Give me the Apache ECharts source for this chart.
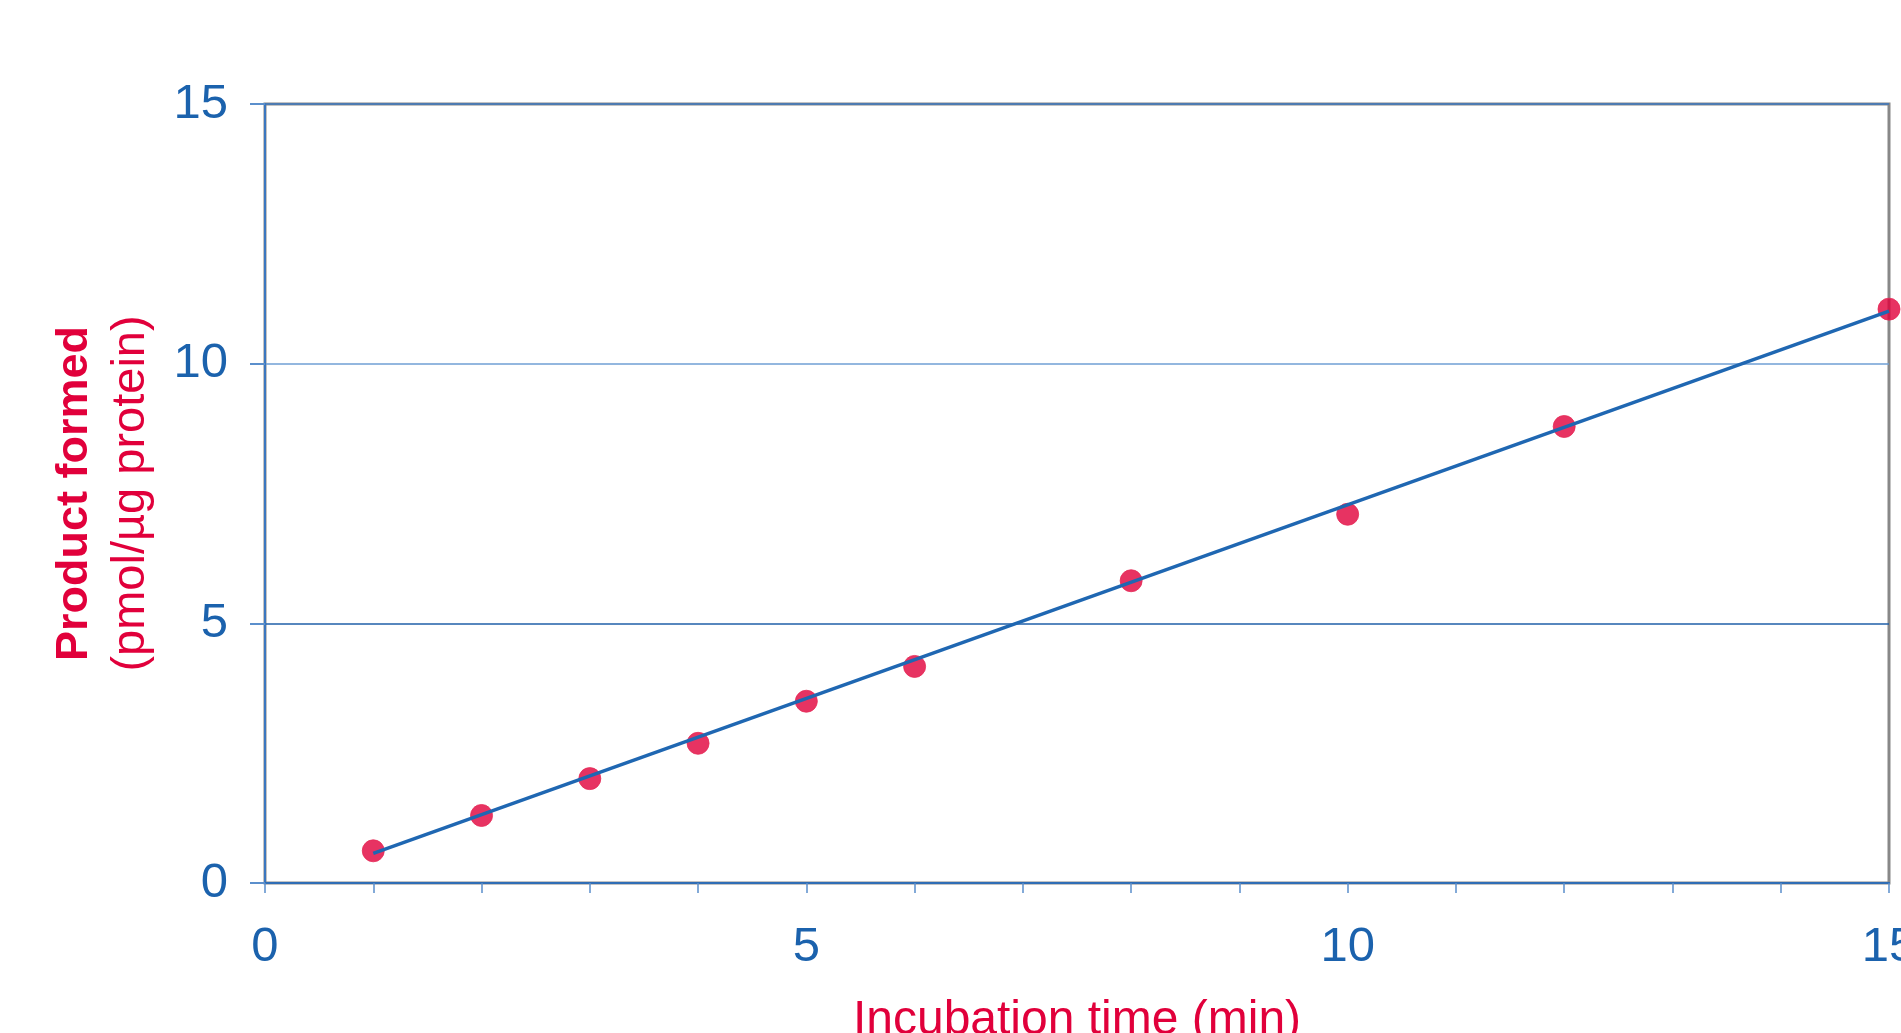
<!DOCTYPE html>
<html>
<head>
<meta charset="utf-8">
<script src="https://cdn.jsdelivr.net/npm/echarts@6/dist/echarts.min.js"></script>
<style>
html,body{margin:0;padding:0;background:#fff;overflow:hidden;}
#chart{width:1901px;height:1033px;}
</style>
</head>
<body>
<div id="chart"></div>
<script>
// Data
var timeMin = [1, 2, 3, 4, 5, 6, 8, 10, 12, 15];
var product = [0.62, 1.30, 2.01, 2.69, 3.50, 4.17, 5.82, 7.10, 8.79, 11.05];
var fitX = [1, 15];
var fitY = [0.57, 11.01];
var xTicks = [0, 5, 10, 15];
var yTicks = [0, 5, 10, 15];
var xTitle = 'Incubation time (min)';
var yTitle1 = 'Product formed';
var yTitle2 = '(pmol/µg protein)';

var BLUE = '#1b62ad';
var RED = '#e1003b';
var FONT = '"Liberation Sans", Arial, Helvetica, sans-serif';

var chart = echarts.init(document.getElementById('chart'));
chart.setOption({
  backgroundColor: '#fff',
  animation: false,
  grid: {
    left: 265, right: 12, top: 104, bottom: 150,
    outerBoundsMode: 'none', containLabel: false,
    show: true, borderColor: '#888888', borderWidth: 3, backgroundColor: 'transparent'
  },
  xAxis: [{
    type: 'value', min: xTicks[0], max: xTicks[xTicks.length - 1], interval: 5,
    name: xTitle, nameLocation: 'middle', nameGap: 114,
    nameTextStyle: { color: RED, fontSize: 48, fontFamily: FONT },
    axisLine: { show: true, onZero: false, lineStyle: { color: '#3b77bf', width: 2 } },
    axisTick: { show: true, length: 10, lineStyle: { color: '#5b8fcc', width: 1.5 } },
    minorTick: { show: true, splitNumber: 5, length: 10, lineStyle: { color: '#5b8fcc', width: 1.5 } },
    axisLabel: { color: BLUE, fontSize: 49, fontFamily: FONT, margin: 40 },
    splitLine: { show: false }
  }, {
    type: 'value', position: 'top', offset: 3, min: 0, max: 15,
    axisLine: { show: true, lineStyle: { color: '#2f6db5', width: 2 } },
    axisTick: { show: false }, axisLabel: { show: false }, splitLine: { show: false }
  }],
  yAxis: {
    type: 'value', min: yTicks[0], max: yTicks[yTicks.length - 1], interval: 5,
    name: '{a|' + yTitle1 + '}\n{b|' + yTitle2 + '}',
    nameLocation: 'middle', nameGap: 106, nameRotate: 90,
    nameTextStyle: {
      color: RED, fontFamily: FONT, align: 'center',
      rich: {
        a: { color: RED, fontSize: 45, fontWeight: 'bold', fontFamily: FONT, lineHeight: 56 },
        b: { color: RED, fontSize: 47, fontFamily: FONT, lineHeight: 56 }
      }
    },
    axisLine: { show: true, onZero: false, lineStyle: { color: '#3b77bf', width: 2 } },
    axisTick: { show: true, length: 15, lineStyle: { color: '#5b8fcc', width: 2 } },
    axisLabel: { color: BLUE, fontSize: 49, fontFamily: FONT, margin: 37 },
    splitLine: { show: true, lineStyle: { color: ['#3b77bf', '#1f5fa8', '#6f9fd5', '#3b77bf'], width: 1.5 } }
  },
  series: [{
    type: 'scatter',
    data: timeMin.map(function (t, i) { return [t, product[i]]; }),
    symbol: 'circle', symbolSize: 22, clip: false, z: 2,
    itemStyle: { color: RED, borderColor: '#e62a58', borderWidth: 1 }
  }, {
    type: 'line',
    data: fitX.map(function (t, i) { return [t, fitY[i]]; }),
    showSymbol: false, symbol: 'none', clip: false, z: 3,
    lineStyle: { color: '#1f67b2', width: 3.5 }
  }]
});
</script>
</body>
</html>
